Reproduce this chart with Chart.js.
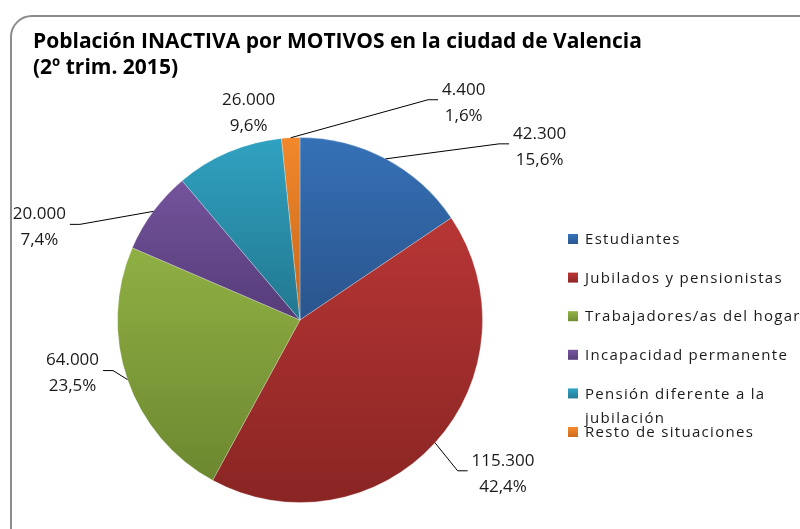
<!DOCTYPE html>
<html>
<head>
<meta charset="utf-8">
<script src="https://cdn.jsdelivr.net/npm/chart.js@4.4.1/dist/chart.umd.min.js"></script>
<style>
	html, body { margin: 0; padding: 0; background: #fff; overflow: hidden; }
	#wrap { position: relative; width: 800px; height: 529px; }
	#frame {
		position: absolute; left: 10px; top: 15px; width: 830px; height: 560px;
		border: 2px solid #8c8c8c; border-radius: 22px; box-sizing: border-box;
	}
	canvas { position: absolute; left: 0; top: 0; }
</style>
</head>
<body>
<div id="wrap">
	<div id="frame"></div>
	<canvas id="pieChart" width="800" height="529"></canvas>
</div>
<script>
var titleLines = ['Población INACTIVA por MOTIVOS en la ciudad de Valencia', '(2º trim. 2015)'];
var categories = ['Estudiantes', 'Jubilados y pensionistas', 'Trabajadores/as del hogar', 'Incapacidad permanente', 'Pensión diferente a la jubilación', 'Resto de situaciones'];
var values = [42300, 115300, 64000, 20000, 26000, 4400];
var valueLabels = ['42.300', '115.300', '64.000', '20.000', '26.000', '4.400'];
var percentLabels = ['15,6%', '42,4%', '23,5%', '7,4%', '9,6%', '1,6%'];

// gradient stops (top, bottom) per slice
var topColors = ['#3571b6', '#b73635', '#8fb043', '#74539c', '#30a2c1', '#f2882b'];
var bottomColors = ['#2a548c', '#892523', '#6c8830', '#553c78', '#22778f', '#c6661b'];

// label block offsets from the slice's outer mid point
var labelOffsets = [[154, -12], [68, 31], [-55, -6], [-114, 16], [20, -39], [173, -35]];

function sliceBounds(chart, i) {
	var meta = chart.getDatasetMeta(0);
	var ca = chart.chartArea;
	var cx = (ca.left + ca.right) / 2;
	var cy = (ca.top + ca.bottom) / 2;
	var r = meta.controller.outerRadius || Math.min(ca.right - ca.left, ca.bottom - ca.top) / 2;
	var total = values.reduce(function (a, b) { return a + b; }, 0);
	var start = 0;
	for (var k = 0; k < i; k++) start += values[k];
	var a0 = start / total * 2 * Math.PI;
	var a1 = (start + values[i]) / total * 2 * Math.PI;
	var minY = cy, maxY = cy;
	for (var s = 0; s <= 40; s++) {
		var a = a0 + (a1 - a0) * s / 40;
		var y = cy - r * Math.cos(a);
		minY = Math.min(minY, y);
		maxY = Math.max(maxY, y);
	}
	return { top: minY, bottom: maxY };
}

var pieText = {
	id: 'pieText',
	afterDraw: function (chart) {
		var ctx = chart.ctx;
		ctx.save();
		// title
		ctx.fillStyle = '#000';
		ctx.font = 'bold 21px "Open Sans"';
		ctx.textAlign = 'left';
		ctx.textBaseline = 'alphabetic';
		ctx.fillText(titleLines[0], 33, 48);
		ctx.fillText(titleLines[1], 33, 74);

		// data labels with leader lines
		var meta = chart.getDatasetMeta(0);
		ctx.font = '17px "Open Sans"';
		ctx.textBaseline = 'middle';
		ctx.textAlign = 'center';
		meta.data.forEach(function (arc, i) {
			var mid = (arc.startAngle + arc.endAngle) / 2;
			var px = arc.x + arc.outerRadius * Math.cos(mid);
			var py = arc.y + arc.outerRadius * Math.sin(mid);
			var bx = px + labelOffsets[i][0];
			var by = py + labelOffsets[i][1];
			var w = Math.max(ctx.measureText(valueLabels[i]).width, ctx.measureText(percentLabels[i]).width);
			var dist = Math.sqrt(labelOffsets[i][0] * labelOffsets[i][0] + labelOffsets[i][1] * labelOffsets[i][1]);
			if (dist > 50) {
				var side = bx > px ? -1 : 1;
				var edge = bx + side * (w / 2 + 4);
				ctx.strokeStyle = '#000';
				ctx.lineWidth = 1;
				ctx.beginPath();
				ctx.moveTo(px, py);
				ctx.lineTo(edge + side * 10, by - 3);
				ctx.lineTo(edge, by - 3);
				ctx.stroke();
			}
			ctx.fillStyle = '#1a1a1a';
			ctx.fillText(valueLabels[i], bx, by - 13);
			ctx.fillText(percentLabels[i], bx, by + 13);
		});

		// legend
		ctx.font = '15px "Open Sans"';
		ctx.letterSpacing = '1.3px';
		ctx.textAlign = 'left';
		var lx = 568, ly = 240, step = 38.6;
		categories.forEach(function (name, i) {
			var g = ctx.createLinearGradient(0, ly - 5, 0, ly + 5);
			g.addColorStop(0, topColors[i]);
			g.addColorStop(1, bottomColors[i]);
			ctx.fillStyle = g;
			ctx.fillRect(lx, ly - 6, 10, 10);
			ctx.fillStyle = '#1a1a1a';
			// wrap long names
			var words = name.split(' ');
			var lines = [];
			var cur = '';
			words.forEach(function (wd) {
				var test = cur ? cur + ' ' + wd : wd;
				if (cur && ctx.measureText(test).width > 245) {
					lines.push(cur);
					cur = wd;
				} else {
					cur = test;
				}
			});
			lines.push(cur);
			lines.forEach(function (ln, j) {
				ctx.fillText(ln, lx + 17, ly + j * 24);
			});
			ly += step;
		});
		ctx.restore();
	}
};

const ctx = document.getElementById('pieChart');
new Chart(ctx, {
	type: 'pie',
	data: {
		labels: categories,
		datasets: [{
			data: values,
			backgroundColor: function (c) {
				var chart = c.chart;
				if (!chart.chartArea || c.dataIndex === undefined) return topColors[c.dataIndex || 0];
				var b = sliceBounds(chart, c.dataIndex);
				var g = chart.ctx.createLinearGradient(0, b.top, 0, b.bottom);
				g.addColorStop(0, topColors[c.dataIndex]);
				g.addColorStop(1, bottomColors[c.dataIndex]);
				return g;
			},
			borderWidth: 1,
			borderColor: 'rgba(255, 255, 255, 0.25)'
		}]
	},
	options: {
		responsive: false,
		animation: false,
		layout: {
			padding: { left: 117, right: 317, top: 137, bottom: 26 }
		},
		plugins: {
			legend: { display: false },
			tooltip: { enabled: false }
		}
	},
	plugins: [pieText]
});
</script>
</body>
</html>
